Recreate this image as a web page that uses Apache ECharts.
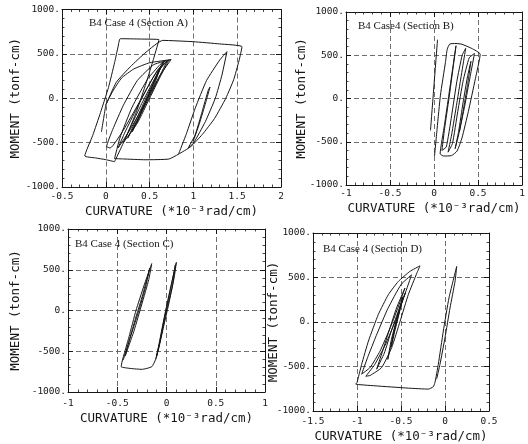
<!DOCTYPE html>
<html>
<head>
<meta charset="utf-8">
<script src="https://cdn.jsdelivr.net/npm/echarts@6/dist/echarts.min.js"></script>
<style>html,body{margin:0;padding:0;background:#fff;}#c{width:528px;height:444px;}</style>
</head>
<body>
<div id="c"></div>
<script>
// ---- tick values ----
const xTicksA = [-0.5, 0, 0.5, 1, 1.5, 2];
const xTicksB = [-1, -0.5, 0, 0.5, 1];
const xTicksC = [-1, -0.5, 0, 0.5, 1];
const xTicksD = [-1.5, -1, -0.5, 0, 0.5];
const yTicks = [-1000, -500, 0, 500, 1000];

// ---- texts ----
const panelTitles = ['B4 Case 4 (Section A)', 'B4 Case4 (Section B)', 'B4 Case 4 (Section C)', 'B4 Case 4 (Section D)'];
const xName = 'CURVATURE (*10\u207B\u00B3rad/cm)';
const yName = 'MOMENT (tonf-cm)';

// ---- Section A: [curvature, moment] ----
const secA_start = [[-0.05,-380],[0.0,-76]];
const secA_loop1 = [[0.10,-715],[0.0,-692],[-0.12,-672],[-0.24,-650],[-0.15,-420],[-0.06,-160],[0.03,120],[0.10,400],[0.14,580],[0.165,671],[0.40,667],[0.607,660],[0.55,460],[0.46,170],[0.35,-150],[0.23,-440],[0.10,-715]];
const secA_loop2 = [[0.0,-76],[0.12,180],[0.28,355],[0.46,520],[0.65,652],[1.0,637],[1.30,612],[1.555,581],[1.52,420],[1.46,210],[1.37,0],[1.24,-230],[1.10,-410],[0.97,-545],[0.83,-630],[0.72,-685],[0.45,-693],[0.20,-684],[0.10,-680]];
const secA_right = [[0.83,-630],[0.92,-400],[1.02,-114],[1.15,200],[1.30,430],[1.383,525],[1.326,262],[1.25,0],[1.136,-264],[1.0,-508],[0.94,-560],[1.02,-414],[1.10,-150],[1.17,93],[1.19,127],[1.14,-50],[1.07,-280],[1.0,-480]];
const secA_wide = [[0.0,-72],[0.08,80],[0.18,228],[0.32,330],[0.50,400],[0.745,435]];
const secA_cluster = [
 [0.10,-680],[0.16,-450],[0.30,-100],[0.48,220],[0.62,380],[0.68,425],
 [0.55,250],[0.38,-50],[0.20,-360],[0.05,-560],
 [0.01,-545],[0.08,-350],[0.20,-80],[0.36,200],[0.55,380],[0.745,435],
 [0.62,260],[0.45,-50],[0.28,-350],[0.14,-560],
 [0.22,-380],[0.35,-120],[0.48,130],[0.60,330],[0.72,430],
 [0.62,240],[0.50,0],[0.36,-280],[0.20,-500],
 [0.28,-330],[0.40,-80],[0.52,150],[0.62,330],[0.70,420],
 [0.60,220],[0.48,-20],[0.36,-250],[0.25,-450],
 [0.33,-280],[0.43,-60],[0.53,150],[0.62,350],[0.66,410],
 [0.56,200],[0.46,-30],[0.38,-220],[0.30,-380],
 [0.38,-200],[0.47,0],[0.56,200],[0.63,360],
 [0.55,150],[0.45,-60],[0.36,-260]
];

// ---- Section B ----
const secB_start = [[-0.04,-370],[0.04,680]];
const secB_loop = [
 [0.006,-665],[0.036,-342],[0.073,38],[0.13,418],[0.15,570],[0.18,630],[0.25,636],[0.318,627],[0.43,578],[0.525,513],
 [0.47,228],[0.39,-152],[0.318,-456],[0.262,-608],[0.20,-660],[0.11,-665],[0.07,-640],
 [0.12,-300],[0.17,50],[0.22,400],[0.25,610],
 [0.22,380],[0.17,0],[0.12,-350],[0.09,-600],
 [0.14,-560],[0.20,-200],[0.26,200],[0.32,500],[0.36,580],
 [0.32,330],[0.26,-50],[0.20,-420],[0.16,-620],
 [0.21,-520],[0.27,-150],[0.33,200],[0.40,470],[0.46,520],
 [0.41,250],[0.35,-80],[0.28,-420],[0.24,-580],
 [0.28,-380],[0.33,-50],[0.38,250],[0.42,430],
 [0.38,150],[0.33,-150],[0.29,-380]
];

// ---- Section C ----
const secC_loop = [
 [-0.10,-560],[-0.05,-250],[0.0,50],[0.05,330],[0.10,590],
 [0.08,420],[0.03,120],[-0.03,-200],[-0.08,-470],[-0.11,-600],
 [-0.15,-690],[-0.25,-722],[-0.36,-712],[-0.46,-690],[-0.45,-620],
 [-0.38,-320],[-0.31,0],[-0.23,300],[-0.15,575],
 [-0.18,380],[-0.25,80],[-0.33,-250],[-0.42,-560],
 [-0.39,-420],[-0.32,-120],[-0.24,200],[-0.17,520],
 [-0.21,300],[-0.28,0],[-0.36,-300],[-0.44,-610]
];
const secC_right2 = [[-0.11,-600],[-0.07,-400],[-0.02,-80],[0.04,250],[0.09,560],[0.06,300],[0.0,0],[-0.06,-350],[-0.10,-560]];

// ---- Section D ----
const secD_loop = [
 [-0.55,0],[-0.51,180],[-0.48,280],[-0.52,100],[-0.57,-100],[-0.61,-280],[-0.58,-100],[-0.53,100],[-0.48,260],
 [-0.54,60],[-0.61,-200],[-0.65,-420],[-0.60,-200],[-0.55,0],[-0.49,220],[-0.45,330],
 [-0.52,150],[-0.61,-100],[-0.69,-350],[-0.777,-530],[-0.71,-330],[-0.63,-80],[-0.55,160],[-0.455,382],
 [-0.52,200],[-0.62,-60],[-0.74,-330],[-0.85,-510],[-0.947,-586],[-0.88,-400],[-0.78,-150],[-0.65,150],[-0.50,420],[-0.38,530],
 [-0.46,300],[-0.56,20],[-0.68,-260],[-0.80,-480],[-0.90,-610],[-0.85,-600],
 [-0.72,-512],[-0.606,-288],[-0.51,9],[-0.417,307],[-0.32,549],[-0.284,631],
 [-0.40,568],[-0.53,456],[-0.644,307],[-0.758,84],[-0.87,-214],[-0.947,-475],[-1.0,-680],[-1.015,-698],
 [-0.795,-717],[-0.417,-743],[-0.19,-754],[-0.133,-728],[-0.114,-679],
 [-0.076,-475],[-0.019,-102],[0.045,270],[0.133,624],
 [0.114,456],[0.057,158],[0.0,-177],[-0.057,-475],[-0.095,-642]
];

const panels = [
  {xt: xTicksA, data: [secA_start, secA_loop1, secA_loop2, secA_right, secA_wide, secA_cluster],
   grid: {left: 62, top: 9.5, width: 219, height: 177.5}, xGap: 18, yGap: 40, xMargin: 5, title: {left: 89, top: 18}},
  {xt: xTicksB, data: [secB_start, secB_loop],
   grid: {left: 346, top: 12, width: 176, height: 173}, xGap: 17, yGap: 38, xMargin: 4, title: {left: 358, top: 21}},
  {xt: xTicksC, data: [secC_loop, secC_right2],
   grid: {left: 68, top: 229, width: 197, height: 163}, xGap: 20, yGap: 46, xMargin: 7, title: {left: 75, top: 239}},
  {xt: xTicksD, data: [secD_loop],
   grid: {left: 313, top: 233, width: 176, height: 179}, xGap: 19, yGap: 33, xMargin: 6, title: {left: 323, top: 244}}
];

const ink = '#161616';
const mono = 'DejaVu Sans Mono';

function axisBase(primary) {
  return {
    type: 'value',
    nameMoveOverlap: false,
    axisLine: {show: true, onZero: false, lineStyle: {color: ink, width: 1}},
    axisTick: {show: true, inside: true, length: 5, lineStyle: {color: ink, width: 1}},
    minorTick: {show: true, splitNumber: 5, length: 2.5, lineStyle: {color: ink, width: 0.8}},
    splitLine: {show: primary, lineStyle: {type: [5, 3], color: '#4a4a4a', width: 0.8}},
    minorSplitLine: {show: false}
  };
}

const grids = [], xAxes = [], yAxes = [], series = [], titles = [];
panels.forEach((p, i) => {
  grids.push(Object.assign({containLabel: false}, p.grid));
  [true, false].forEach(primary => {
    xAxes.push(Object.assign(axisBase(primary), {
      gridIndex: i, position: primary ? 'bottom' : 'top',
      min: p.xt[0], max: p.xt[p.xt.length - 1], interval: p.xt[1] - p.xt[0],
      axisLabel: {show: primary, margin: p.xMargin, fontFamily: mono, fontSize: 9.5, color: ink, showMinLabel: true, showMaxLabel: true},
      name: primary ? xName : '', nameLocation: 'middle', nameGap: p.xGap,
      nameTextStyle: {fontFamily: mono, fontSize: 12.5, color: ink}
    }));
    yAxes.push(Object.assign(axisBase(primary), {
      gridIndex: i, position: primary ? 'left' : 'right',
      min: yTicks[0], max: yTicks[yTicks.length - 1], interval: yTicks[1] - yTicks[0],
      axisLabel: {show: primary, margin: 2, fontFamily: mono, fontSize: 9.5, color: ink, formatter: v => v + '.', showMinLabel: true, showMaxLabel: true},
      name: primary ? yName : '', nameLocation: 'middle', nameGap: p.yGap, nameRotate: 90,
      nameTextStyle: {fontFamily: mono, fontSize: 12.5, color: ink}
    }));
  });
  p.data.forEach(arr => {
    series.push({
      type: 'line', xAxisIndex: 2 * i, yAxisIndex: 2 * i, data: arr,
      showSymbol: false, symbol: 'none', smooth: 0.15, silent: true,
      lineStyle: {color: ink, width: 1}
    });
  });
  titles.push({text: panelTitles[i], left: p.title.left, top: p.title.top, padding: 0,
    textStyle: {fontFamily: 'Liberation Serif', fontSize: 11, fontWeight: 'normal', color: ink}});
});

const chart = echarts.init(document.getElementById('c'), null, {renderer: 'canvas'});
chart.setOption({
  backgroundColor: '#fff',
  animation: false,
  title: titles,
  grid: grids,
  xAxis: xAxes,
  yAxis: yAxes,
  series: series
});
</script>
</body>
</html>
